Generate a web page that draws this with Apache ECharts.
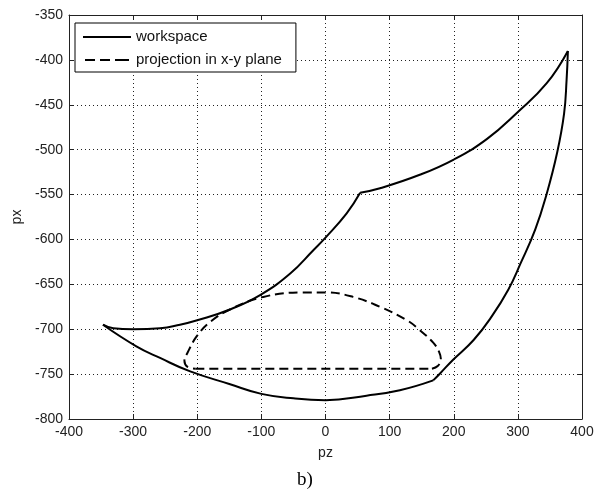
<!DOCTYPE html>
<html>
<head>
<meta charset="utf-8">
<script src="https://cdn.jsdelivr.net/npm/echarts@6/dist/echarts.min.js"></script>
<style>
    html, body { margin: 0; padding: 0; background: #fff; }
    #chart { width: 600px; height: 492px; }
</style>
</head>
<body>
<div id="chart"></div>
<script>
// workspace outline as [pz, px], split at the corners
const upperLeft = [[-347, -695], [-331, -699], [-300, -700], [-258, -699], [-227, -695], [-200, -690],
    [-149, -678], [-102, -662], [-55, -638], [-19, -612], [0, -598], [33, -571], [54, -548]]
const upperRight = [[54, -548], [85, -543], [147, -528], [200, -511], [252, -488], [300, -458],
    [345, -426], [378, -390]]
const rightSide = [[378, -390], [376, -422], [372, -460], [361, -504], [345, -549], [327, -589],
    [304, -627], [285, -656], [259, -686], [231, -712], [199, -734], [179, -749], [168, -757]]
const bottom = [[168, -757], [116, -768], [64, -774], [0, -779], [-50, -777], [-100, -772],
    [-150, -761], [-211, -747], [-258, -732], [-295, -719], [-347, -695]]
// projection in x-y plane
const projArc = [[166, -744], [175, -741], [180, -734], [177, -725], [168, -715], [147, -701],
    [127, -690], [85, -675], [43, -664], [2, -659], [-35, -659], [-97, -664], [-149, -678],
    [-180, -692], [-201, -708], [-215, -726], [-220, -735], [-215, -742], [-203, -744]]
const projBase = [[-203, -744], [166, -744]]

const names = ['workspace', 'projection in x-y plane']
const xTicks = { min: -400, max: 400, step: 100 }
const yTicks = { min: -800, max: -350, step: 50 }

const font = 'Liberation Sans, Arial, sans-serif'
const chart = echarts.init(document.getElementById('chart'))

function solid(data) {
    return {
        name: names[0],
        type: 'line',
        data: data,
        smooth: 0.45,
        symbol: 'none',
        lineStyle: { color: '#000', width: 2 },
        itemStyle: { color: '#000' },
    }
}
function dashed(data, smooth) {
    return {
        name: names[1],
        type: 'line',
        data: data,
        smooth: smooth,
        symbol: 'none',
        lineStyle: { color: '#000', width: 2, type: [9, 5] },
        itemStyle: { color: '#000' },
    }
}

const axisCommon = {
    type: 'value',
    axisLine: { show: true, onZero: false, lineStyle: { color: '#222', width: 1 } },
    axisTick: { show: true, inside: true, length: 5, lineStyle: { color: '#222' } },
}

const option = {
    backgroundColor: '#fff',
    animation: false,
    title: {
        text: 'b)',
        left: 300,
        top: 466,
        textAlign: 'center',
        textStyle: { fontFamily: 'Liberation Serif, Times New Roman, serif', fontSize: 19, fontWeight: 'normal', color: '#000' },
    },
    grid: { left: 69, right: 18, top: 15, bottom: 73 },
    legend: {
        data: [
            { name: names[0], icon: 'path://M0,0h48v2h-48z' },
            { name: names[1], icon: 'path://M0,0h10v2h-10zM15,0h10v2h-10zM30,0h14v2h-14z' },
        ],
        orient: 'vertical',
        left: 75,
        top: 23,
        padding: [6, 14, 4, 8],
        itemGap: 7,
        itemWidth: 48,
        itemHeight: 2,
        borderColor: '#000',
        borderWidth: 1,
        backgroundColor: '#fff',
        itemStyle: { color: '#000' },
        textStyle: { fontFamily: font, fontSize: 15, lineHeight: 16, color: '#111' },
    },
    xAxis: [
        Object.assign({}, axisCommon, {
            position: 'bottom',
            min: xTicks.min,
            max: xTicks.max,
            interval: xTicks.step,
            name: 'pz',
            nameLocation: 'middle',
            nameGap: 27,
            nameTextStyle: { fontFamily: font, fontSize: 14, color: '#222' },
            axisLabel: { fontFamily: font, fontSize: 14, color: '#222', margin: 6 },
            splitLine: { show: true, lineStyle: { color: '#222', type: [1, 3] } },
        }),
        Object.assign({}, axisCommon, {
            position: 'top',
            min: xTicks.min,
            max: xTicks.max,
            interval: xTicks.step,
            axisLabel: { show: false },
            splitLine: { show: false },
        }),
    ],
    yAxis: [
        Object.assign({}, axisCommon, {
            position: 'left',
            min: yTicks.min,
            max: yTicks.max,
            interval: yTicks.step,
            name: 'px',
            nameLocation: 'middle',
            nameGap: 38,
            nameRotate: 90,
            nameTextStyle: { fontFamily: font, fontSize: 14, color: '#222' },
            axisLabel: { fontFamily: font, fontSize: 14, color: '#222', margin: 6 },
            splitLine: { show: true, lineStyle: { color: '#222', type: [1, 3] } },
        }),
        Object.assign({}, axisCommon, {
            position: 'right',
            min: yTicks.min,
            max: yTicks.max,
            interval: yTicks.step,
            axisLabel: { show: false },
            splitLine: { show: false },
        }),
    ],
    series: [
        solid(upperLeft),
        solid(upperRight),
        solid(rightSide),
        solid(bottom),
        dashed(projArc, 0.4),
        dashed(projBase, false),
    ],
}
chart.setOption(option)
</script>
</body>
</html>
